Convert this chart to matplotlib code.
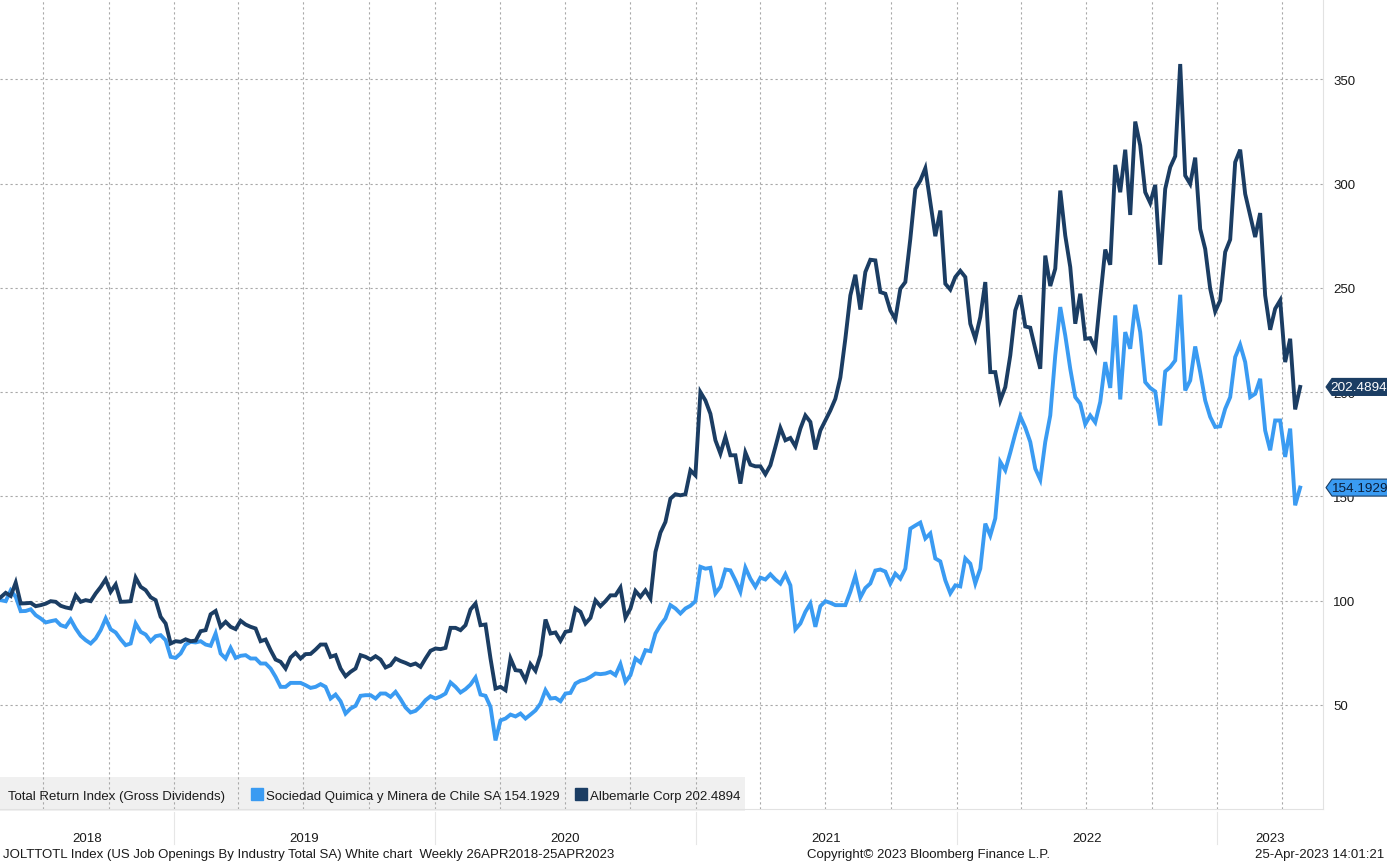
"""
Bloomberg-style total return chart: SQM vs Albemarle, weekly, Apr 2018 - Apr 2023.
Writes out.png (1387x862).
"""

import numpy as np
import pandas as pd
import matplotlib

matplotlib.use("Agg")
import matplotlib.pyplot as plt
import matplotlib.transforms as mtransforms
from matplotlib.patches import Rectangle, Polygon

START = "2018-04-26"

# weekly total return index, rebased to 100
sqm_values = [
    100.0, 100.2, 99.7, 104.9, 101.8, 94.9, 95.0, 95.8, 93.0, 91.4,
    89.5, 90.1, 90.6, 88.2, 87.4, 90.9, 86.6, 83.1, 81.0, 79.4,
    81.8, 85.8, 91.4, 86.2, 84.7, 81.4, 78.6, 79.4, 89.0, 85.0,
    83.7, 80.5, 82.9, 83.4, 81.0, 73.0, 72.5, 74.6, 78.9, 80.2,
    79.9, 80.5, 78.9, 78.3, 84.2, 74.6, 72.2, 77.3, 72.5, 73.5,
    73.8, 72.2, 72.2, 69.8, 69.8, 67.4, 63.4, 58.6, 58.6, 60.5,
    60.5, 60.5, 59.4, 58.1, 58.6, 59.9, 58.6, 53.0, 54.9, 51.7,
    45.8, 48.2, 49.5, 54.3, 54.6, 54.6, 53.0, 55.4, 55.4, 53.8,
    56.2, 52.7, 48.7, 46.3, 47.1, 49.3, 52.2, 54.1, 53.0, 54.0,
    55.4, 60.7, 58.6, 55.9, 57.5, 59.7, 63.1, 54.9, 54.3, 49.0,
    32.9, 42.5, 43.4, 45.3, 44.4, 45.8, 43.4, 45.3, 47.3, 50.6,
    57.0, 53.0, 53.3, 51.7, 55.4, 55.7, 60.2, 61.5, 62.1, 63.4,
    65.0, 64.7, 65.0, 65.8, 64.2, 69.5, 61.0, 64.2, 72.2, 70.3,
    76.2, 75.7, 84.2, 88.2, 91.4, 97.8, 96.2, 93.8, 96.2, 97.5,
    99.7, 116.2, 115.3, 115.7, 103.4, 106.6, 114.9, 114.5, 109.7, 104.2,
    115.8, 110.5, 106.6, 111.0, 110.1, 112.6, 110.1, 108.1, 112.6, 107.3,
    86.2, 89.0, 94.6, 98.6, 87.4, 97.3, 99.7, 98.9, 97.8, 97.8,
    97.8, 104.2, 111.8, 101.5, 106.0, 108.2, 114.4, 114.9, 113.9, 108.2,
    112.9, 110.5, 115.3, 134.5, 136.0, 137.4, 129.8, 132.2, 120.2, 118.8,
    109.7, 103.5, 107.3, 106.8, 120.2, 117.7, 108.2, 115.3, 136.9, 131.2,
    139.4, 166.5, 162.5, 171.0, 180.1, 188.4, 183.0, 176.1, 163.3, 158.0,
    176.1, 188.8, 217.6, 240.8, 227.2, 211.2, 197.6, 194.5, 184.6, 188.8,
    185.5, 195.3, 214.4, 202.0, 236.8, 196.5, 228.8, 220.8, 241.9, 228.8,
    204.8, 202.0, 200.3, 184.0, 209.9, 212.0, 215.2, 246.7, 200.8, 205.6,
    221.9, 209.6, 196.0, 188.1, 183.3, 183.6, 192.0, 197.6, 216.8, 222.7,
    214.4, 197.6, 199.2, 206.4, 181.6, 172.1, 186.4, 186.4, 168.9, 182.5,
    145.7, 154.1929,
]

alb_values = [
    100.0, 101.6, 103.7, 102.2, 108.6, 98.6, 98.7, 98.9, 97.3, 97.8,
    98.5, 99.7, 99.4, 97.5, 96.7, 96.2, 102.5, 99.4, 100.2, 99.7,
    103.4, 106.5, 110.2, 104.2, 107.7, 99.4, 99.5, 99.7, 111.0, 106.6,
    105.0, 101.6, 100.2, 92.2, 89.0, 79.4, 80.5, 80.2, 81.4, 80.5,
    80.8, 85.3, 85.8, 93.4, 95.0, 87.4, 89.8, 87.4, 86.3, 90.3,
    88.5, 87.4, 86.6, 80.5, 81.3, 76.2, 71.7, 70.6, 67.4, 72.7,
    74.9, 72.2, 74.3, 74.4, 76.5, 78.9, 78.9, 73.0, 73.8, 67.4,
    63.7, 65.8, 67.4, 73.8, 73.0, 71.7, 73.3, 71.7, 67.9, 69.0,
    72.2, 71.0, 70.1, 69.0, 69.8, 68.2, 72.2, 75.9, 77.0, 76.7,
    77.3, 86.9, 86.9, 85.8, 88.2, 95.7, 98.6, 88.2, 88.5, 72.2,
    57.8, 58.6, 57.0, 72.2, 66.6, 66.3, 61.8, 69.5, 66.3, 73.8,
    90.9, 84.2, 84.7, 80.7, 85.0, 85.5, 96.2, 94.6, 89.0, 91.7,
    100.1, 97.3, 99.7, 102.5, 102.5, 106.2, 91.8, 96.2, 104.6, 101.8,
    104.9, 101.0, 123.3, 132.6, 137.7, 148.9, 151.0, 150.5, 151.0, 162.5,
    160.1, 200.0, 196.0, 189.6, 176.9, 170.5, 178.5, 169.7, 169.7, 156.1,
    171.0, 165.2, 164.4, 164.4, 160.6, 164.9, 173.7, 182.8, 176.9, 178.0,
    174.0, 182.5, 188.8, 185.7, 172.5, 181.6, 186.4, 191.2, 196.8, 207.0,
    225.6, 246.4, 256.3, 239.6, 257.6, 263.5, 263.2, 248.0, 247.2, 239.2,
    234.9, 249.6, 252.8, 273.5, 297.5, 301.5, 307.4, 291.1, 274.8, 287.1,
    252.0, 249.2, 255.2, 258.2, 255.2, 232.8, 225.6, 236.0, 252.8, 209.6,
    209.6, 196.0, 202.4, 217.6, 239.2, 246.4, 231.5, 230.9, 220.8, 211.2,
    265.5, 250.9, 259.2, 296.7, 275.1, 260.0, 232.8, 247.2, 225.6, 225.9,
    220.8, 245.0, 268.4, 261.1, 309.0, 295.9, 316.3, 285.0, 329.8, 318.3,
    295.9, 290.8, 299.4, 261.1, 297.5, 307.9, 313.2, 357.4, 303.9, 299.9,
    312.5, 278.3, 268.7, 249.6, 238.7, 244.0, 267.2, 273.2, 310.3, 316.3,
    295.1, 284.7, 274.4, 285.9, 246.4, 229.9, 240.0, 244.0, 214.4, 225.6,
    191.7, 202.4894,
]

y_ticks = [50, 100, 150, 200, 250, 300, 350]
year_labels = ["2018", "2019", "2020", "2021", "2022", "2023"]

legend_title = "Total Return Index (Gross Dividends)"
sqm_name = "Sociedad Quimica y Minera de Chile SA"
alb_name = "Albemarle Corp"
footer_left = ("JOLTTOTL Index (US Job Openings By Industry Total SA) White chart  "
               "Weekly 26APR2018-25APR2023")
footer_mid = "Copyright\u00a9 2023 Bloomberg Finance L.P."
footer_right = "25-Apr-2023 14:01:21"

SQM_BLUE = "#3a9bf2"
ALB_NAVY = "#1b3d63"
GRID = "#a8a8a8"
TEXT = "#1a1a1a"

FIG_W, FIG_H = 1387, 862
AX_W, AX_H = 1323, 810
Y_TOP = 388.6

plt.rcParams["font.family"] = ["Liberation Sans", "DejaVu Sans"]


def value_tag(ax, value, face, text_color, edge):
    # Bloomberg last-price tag: a box with a pointed left end, hung off the axis
    tr = mtransforms.blended_transform_factory(ax.transAxes, ax.transData)
    px = 1.0 / AX_W                      # one pixel in axes fraction
    half = 8.5 * Y_TOP / AX_H            # half tag height in data units
    pts = [
        (1.0 + 3 * px, value),
        (1.0 + 9 * px, value + half),
        (1.0 + 66 * px, value + half),
        (1.0 + 66 * px, value - half),
        (1.0 + 9 * px, value - half),
    ]
    ax.add_patch(Polygon(pts, closed=True, transform=tr, fc=face, ec=edge,
                         lw=0.8, clip_on=False, zorder=5))
    ax.text(1.0 + 36 * px, value, f"{value:.4f}", transform=tr,
            ha="center", va="center", fontsize=9.7, color=text_color,
            clip_on=False, zorder=6)


def main() -> int:
    dates = pd.date_range(START, periods=len(alb_values), freq="7D")
    x_left = pd.Timestamp("2018-05-02")
    x_right = pd.Timestamp("2023-05-29")

    fig = plt.figure(figsize=(FIG_W / 100, FIG_H / 100), dpi=100)
    ax = fig.add_axes([0, 52 / FIG_H, AX_W / FIG_W, AX_H / FIG_H])

    ax.plot(dates, sqm_values, color=SQM_BLUE, lw=2.8, zorder=3,
            solid_joinstyle="miter")
    ax.plot(dates, alb_values, color=ALB_NAVY, lw=2.8, zorder=4,
            solid_joinstyle="miter")

    ax.set_xlim(x_left, x_right)
    ax.set_ylim(0, Y_TOP)

    # grid: quarterly verticals, every 50 horizontally
    quarters = pd.date_range("2018-07-01", "2023-04-01", freq="QS")
    ax.set_xticks(quarters)
    ax.set_yticks(y_ticks)
    ax.set_axisbelow(True)
    ax.grid(True, color=GRID, lw=0.8, linestyle=(0, (2, 2.5)))
    ax.tick_params(axis="x", length=0, labelbottom=False)
    ax.yaxis.tick_right()
    ax.tick_params(axis="y", length=0, pad=7.5, labelsize=9.5, labelcolor=TEXT)

    for side in ("top", "left"):
        ax.spines[side].set_visible(False)
    for side in ("right", "bottom"):
        ax.spines[side].set_color("#e2e2e2")
        ax.spines[side].set_linewidth(0.8)

    # year labels centred in the visible part of each year, with separators
    for lab in year_labels:
        y0 = max(pd.Timestamp(f"{lab}-01-01"), x_left)
        y1 = min(pd.Timestamp(f"{int(lab) + 1}-01-01"), x_right)
        mid = y0 + (y1 - y0) / 2
        ax.annotate(lab, xy=(mid, 0), xycoords=("data", "axes fraction"),
                    xytext=(0, -32), textcoords="offset pixels",
                    ha="center", va="baseline", fontsize=9.5, color=TEXT,
                    annotation_clip=False)
        if y0 > x_left:
            ax.plot([y0, y0], [-0.004, -0.043], color="#e6e6e6", lw=0.8,
                    transform=ax.get_xaxis_transform(), clip_on=False)

    # legend strip inside the bottom of the plot
    ax.add_patch(Rectangle((0, -0.002), 0.563, 0.042, transform=ax.transAxes,
                           fc="#f0f0f0", ec="none", zorder=0.2, clip_on=False))
    ly = 0.0123
    ax.text(8 / AX_W, ly, legend_title, transform=ax.transAxes, fontsize=9.5,
            color=TEXT, va="baseline", zorder=6)
    ax.plot([257 / AX_W], [0.0185], marker="s", ms=8.5, color=SQM_BLUE,
            transform=ax.transAxes, clip_on=False, zorder=6)
    ax.text(266 / AX_W, ly, f"{sqm_name} {sqm_values[-1]:.4f}",
            transform=ax.transAxes, fontsize=9.5, color=TEXT, va="baseline",
            zorder=6)
    ax.plot([581 / AX_W], [0.0185], marker="s", ms=8.5, color=ALB_NAVY,
            transform=ax.transAxes, clip_on=False, zorder=6)
    ax.text(590 / AX_W, ly, f"{alb_name} {alb_values[-1]:.4f}",
            transform=ax.transAxes, fontsize=9.5, color=TEXT, va="baseline",
            zorder=6)

    # last value tags on the right axis
    value_tag(ax, alb_values[-1], ALB_NAVY, "white", ALB_NAVY)
    value_tag(ax, sqm_values[-1], SQM_BLUE, "#0b1e3a", ALB_NAVY)

    # footer line
    fy = 1 - 858 / FIG_H
    fig.text(3 / FIG_W, fy, footer_left, fontsize=9.5, color=TEXT, va="baseline")
    fig.text(807 / FIG_W, fy, footer_mid, fontsize=9.5, color=TEXT, va="baseline")
    fig.text(1384 / FIG_W, fy, footer_right, fontsize=9.5, color=TEXT,
             va="baseline", ha="right")

    fig.savefig("out.png", dpi=100, facecolor="white")
    return 0


if __name__ == "__main__":
    raise SystemExit(main())
